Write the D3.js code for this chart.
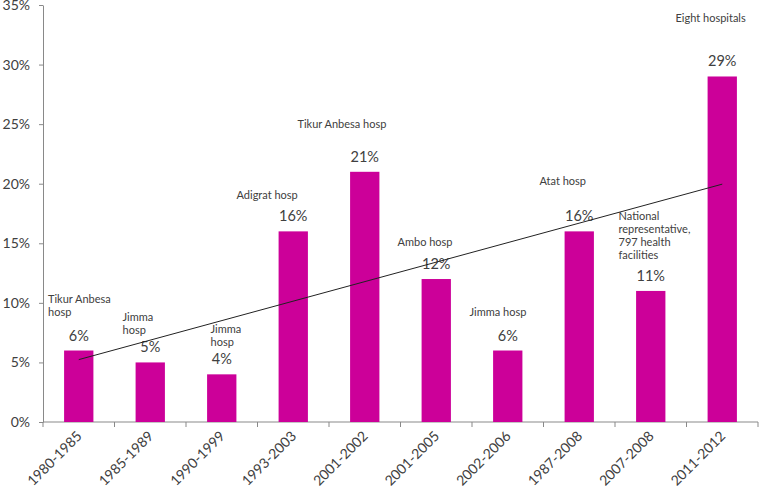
<!DOCTYPE html>
<html lang="en">
<head>
<meta charset="UTF-8">
<script src="https://d3js.org/d3.v7.min.js"></script>
<title>Prevalence by study</title>
<style>
	body { margin: 0; background: #fff; }
	text { font-family: Lato, "Open Sans", sans-serif; fill: #404040; }
	.tick text { font-size: 14px; }
	.val { font-size: 14.5px; }
	.note { font-size: 11px; }
	.domain, .tick line { stroke: #898989; }
</style>
</head>
<body>
<script>
// data
const periods = ["1980-1985", "1985-1989", "1990-1999", "1993-2003", "2001-2002",
	"2001-2005", "2002-2006", "1987-2008", "2007-2008", "2011-2012"];
const values = [6, 5, 4, 16, 21, 12, 6, 16, 11, 29];
const notes = [
	["Tikur Anbesa", "hosp"],
	["Jimma", "hosp"],
	["Jimma", "hosp"],
	["Adigrat hosp"],
	["Tikur Anbesa hosp"],
	["Ambo hosp"],
	["Jimma hosp"],
	["Atat hosp"],
	["National", "representative,", "797 health", "facilities"],
	["Eight hospitals"]
];
const yTicks = [0, 5, 10, 15, 20, 25, 30, 35];

// where each note sits: x offset from the category start (px), first baseline (% units)
const notePlace = [[5, 10.0], [8, 8.5], [24.5, 7.45], [-21, 18.7], [-31.5, 24.7],
	[-3, 14.75], [-2.5, 8.9], [-4, 19.9], [3.5, 16.95], [-11, 33.6]];

const W = 759, H = 488;
const svg = d3.select("body").append("svg").attr("width", W).attr("height", H);

const mLeft = 43, mRight = 758, mTop = 5, mBottom = 422;

const x = d3.scaleBand().domain(periods).range([mLeft, mRight])
	.paddingInner(0.59).paddingOuter(0.295);
const y = d3.scaleLinear().domain([0, 35]).range([mBottom, mTop]);

// y axis
svg.append("g")
	.attr("transform", "translate(" + mLeft + ",0)")
	.call(d3.axisLeft(y).tickValues(yTicks).tickFormat(d => d + "%").tickSize(4).tickSizeOuter(0))
	.call(g => g.selectAll(".tick text").attr("x", -13));

// x axis: line plus ticks between the categories
const xg = svg.append("g").attr("transform", "translate(0," + mBottom + ")");
xg.append("line").attr("class", "domain")
	.attr("x1", mLeft).attr("x2", mRight).attr("y1", 0).attr("y2", 0);
xg.selectAll(".sep")
	.data(d3.range(periods.length + 1))
	.enter().append("line")
	.attr("class", "domain")
	.attr("x1", i => mLeft + i * x.step())
	.attr("x2", i => mLeft + i * x.step())
	.attr("y1", 0).attr("y2", 5);
xg.selectAll(".lab")
	.data(periods)
	.enter().append("text")
	.attr("class", "lab")
	.style("font-size", "14px")
	.attr("text-anchor", "end")
	.attr("transform", d => "translate(" + (x(d) + x.bandwidth() / 2 + 4) + ",15) rotate(-45)")
	.text(d => d);

// bars
svg.selectAll(".bar")
	.data(values)
	.enter().append("rect")
	.attr("class", "bar")
	.attr("x", (d, i) => x(periods[i]))
	.attr("width", x.bandwidth())
	.attr("y", d => y(d))
	.attr("height", d => mBottom - y(d))
	.attr("fill", "#cc0099");

// value labels
svg.selectAll(".val")
	.data(values)
	.enter().append("text")
	.attr("class", "val")
	.attr("text-anchor", "middle")
	.attr("x", (d, i) => x(periods[i]) + x.bandwidth() / 2)
	.attr("y", d => y(d) - 10)
	.text(d => d + "%");

// notes
notes.forEach((lines, i) => {
	const t = svg.append("text").attr("class", "note")
		.attr("x", mLeft + i * x.step() + notePlace[i][0])
		.attr("y", y(notePlace[i][1]));
	lines.forEach((s, j) => {
		t.append("tspan")
			.attr("x", mLeft + i * x.step() + notePlace[i][0])
			.attr("dy", j === 0 ? 0 : 13)
			.text(s);
	});
});

// linear trend line over the series
const n = values.length;
const xs = d3.range(1, n + 1);
const mx = d3.mean(xs), my = d3.mean(values);
const slope = d3.sum(xs, (v, i) => (v - mx) * (values[i] - my)) / d3.sum(xs, v => (v - mx) * (v - mx));
const icpt = my - slope * mx;
const cx = i => x(periods[i]) + x.bandwidth() / 2;
svg.append("line")
	.attr("x1", cx(0)).attr("y1", y(icpt + slope * 1))
	.attr("x2", cx(n - 1)).attr("y2", y(icpt + slope * n))
	.attr("stroke", "#222").attr("stroke-width", 1);
</script>
</body>
</html>
